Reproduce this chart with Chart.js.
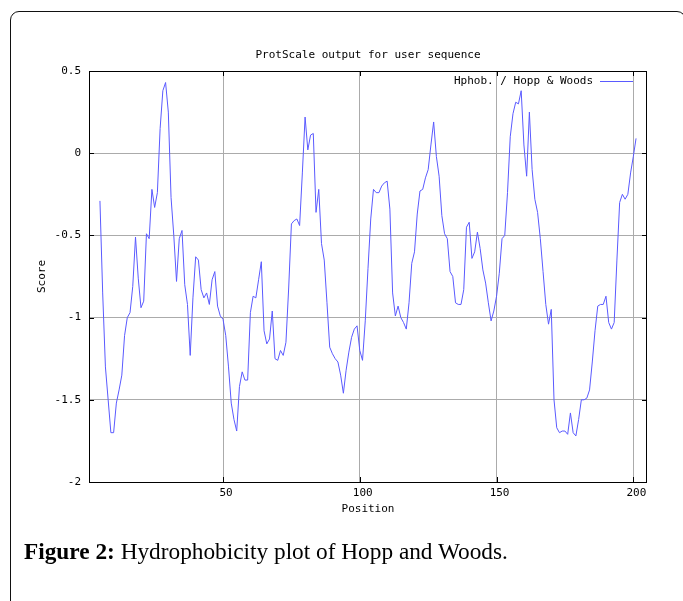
<!DOCTYPE html>
<html>
<head>
<meta charset="utf-8">
<script src="https://cdn.jsdelivr.net/npm/chart.js@4/dist/chart.umd.min.js"></script>
<style>
  html, body { margin:0; padding:0; background:#fff; width:683px; height:601px; overflow:hidden; }
  #frame { position:absolute; left:10px; top:11px; width:676px; height:720px; border:1.5px solid #111; border-radius:9px; box-sizing:border-box; }
  #c { position:absolute; left:0; top:0; }
  #caption { position:absolute; left:24px; top:539px; font-family:"Liberation Serif","DejaVu Serif",serif; font-size:23.3px; line-height:24px; color:#000; white-space:nowrap; }
  #caption b { font-weight:bold; }
</style>
</head>
<body>
<div id="frame"></div>
<canvas id="c" width="683" height="601"></canvas>
<div id="caption"><b>Figure 2:</b> Hydrophobicity plot of Hopp and Woods.</div>
<script>
// ---- data ----
const chartTitle = "ProtScale output for user sequence";
const seriesLabel = "Hphob. / Hopp & Woods";
const xAxisTitle = "Position";
const yAxisTitle = "Score";
const xTickValues = [50, 100, 150, 200];
const yTickValues = [0.5, 0, -0.5, -1, -1.5, -2];

const positions = [
  5,6,7,8,9,10,11,12,13,14,15,16,17,18,19,20,21,22,23,24,25,26,27,28,29,30,
  31,32,33,34,35,36,37,38,39,40,41,42,43,44,45,46,47,48,49,50,
  51,52,53,54,55,56,57,58,59,60,61,62,63,64,65,66,67,68,69,70,
  71,72,73,74,75,76,77,78,79,80,81,82,83,84,85,86,87,88,89,90,
  91,92,93,94,95,96,97,98,99,100,101,102,103,104,105,106,107,108,109,110,
  111,112,113,114,115,116,117,118,119,120,121,122,123,124,125,126,127,128,129,130,
  131,132,133,134,135,136,137,138,139,140,141,142,143,144,145,146,147,148,149,150,
  151,152,153,154,155,156,157,158,159,160,161,162,163,164,165,166,167,168,169,170,
  171,172,173,174,175,176,177,178,179,180,181,182,183,184,185,186,187,188,189,190,
  191,192,193,194,195,196,197,198,199,200,201
];

const scores = [
  -0.29,-0.85,-1.30,-1.50,-1.70,-1.70,-1.52,-1.44,-1.35,-1.11,-1.00,-0.97,-0.81,-0.51,-0.76,-0.94,-0.90,-0.49,-0.52,-0.22,-0.33,-0.24,0.15,0.38,0.43,0.25,
  -0.27,-0.50,-0.78,-0.52,-0.47,-0.80,-0.92,-1.23,-0.88,-0.63,-0.65,-0.83,-0.88,-0.85,-0.92,-0.77,-0.72,-0.93,-0.99,-1.01,
  -1.11,-1.30,-1.52,-1.62,-1.69,-1.42,-1.33,-1.38,-1.38,-0.97,-0.87,-0.88,-0.77,-0.66,-1.08,-1.16,-1.13,-0.96,-1.25,-1.26,
  -1.20,-1.23,-1.15,-0.82,-0.43,-0.41,-0.40,-0.44,-0.12,0.22,0.02,0.11,0.12,-0.36,-0.22,-0.55,-0.65,-0.91,-1.18,-1.22,
  -1.25,-1.27,-1.35,-1.46,-1.32,-1.21,-1.12,-1.07,-1.05,-1.20,-1.26,-1.02,-0.70,-0.40,-0.22,-0.24,-0.24,-0.20,-0.18,-0.17,
  -0.34,-0.85,-0.99,-0.93,-1.00,-1.03,-1.07,-0.91,-0.67,-0.60,-0.37,-0.23,-0.22,-0.15,-0.10,0.05,0.19,-0.02,-0.14,-0.38,
  -0.49,-0.52,-0.72,-0.75,-0.91,-0.92,-0.92,-0.83,-0.45,-0.42,-0.64,-0.60,-0.48,-0.58,-0.71,-0.79,-0.91,-1.02,-0.96,-0.87,
  -0.73,-0.52,-0.50,-0.24,0.10,0.24,0.31,0.30,0.38,0.05,-0.14,0.25,-0.10,-0.28,-0.36,-0.52,-0.72,-0.92,-1.04,-0.95,
  -1.50,-1.67,-1.70,-1.69,-1.69,-1.71,-1.58,-1.70,-1.72,-1.62,-1.50,-1.50,-1.49,-1.44,-1.27,-1.08,-0.93,-0.92,-0.92,-0.87,
  -1.03,-1.07,-1.03,-0.65,-0.30,-0.25,-0.28,-0.25,-0.12,-0.02,0.09
];

// ---- styling ----
const MONO = '"DejaVu Sans Mono", "Liberation Mono", monospace';
const lineColor = 'rgb(90,90,255)';
const gridColor = '#ababab';

const framePlugin = {
  id: 'framePlugin',
  beforeDatasetsDraw(chart) {
    const {ctx, chartArea: a, scales} = chart;
    ctx.save();
    ctx.strokeStyle = '#000';
    ctx.lineWidth = 1;
    ctx.strokeRect(Math.round(a.left) + 0.5, Math.round(a.top) + 0.5, Math.round(a.right - a.left) - 1, Math.round(a.bottom - a.top));
    ctx.beginPath();
    xTickValues.forEach(v => {
      const x = Math.round(scales.x.getPixelForValue(v)) + 0.5;
      ctx.moveTo(x, a.top); ctx.lineTo(x, a.top + 5);
      ctx.moveTo(x, a.bottom); ctx.lineTo(x, a.bottom - 5);
    });
    yTickValues.forEach(v => {
      const y = Math.round(scales.y.getPixelForValue(v)) + 0.5;
      ctx.moveTo(a.left, y); ctx.lineTo(a.left + 5, y);
      ctx.moveTo(a.right, y); ctx.lineTo(a.right - 5, y);
    });
    ctx.stroke();
    ctx.restore();
  },
  afterDraw(chart) {
    const {ctx, chartArea: a} = chart;
    const ds = chart.data.datasets[0];
    const y = a.top + 10.5;
    ctx.save();
    ctx.font = '11px ' + MONO;
    ctx.fillStyle = '#000';
    ctx.textAlign = 'right';
    ctx.textBaseline = 'middle';
    ctx.fillText(ds.label, a.right - 54, y);
    ctx.strokeStyle = ds.borderColor;
    ctx.lineWidth = 1;
    ctx.beginPath();
    ctx.moveTo(a.right - 47, y); ctx.lineTo(a.right - 14, y);
    ctx.stroke();
    ctx.restore();
  }
};

new Chart(document.getElementById('c'), {
  type: 'line',
  data: {
    datasets: [{
      label: seriesLabel,
      data: positions.map((p, i) => ({x: p, y: scores[i]})),
      borderColor: lineColor,
      borderWidth: 1,
      pointRadius: 0,
      tension: 0,
      fill: false
    }]
  },
  options: {
    responsive: false,
    animation: false,
    devicePixelRatio: 1,
    layout: { padding: { left: 0, right: 36, top: 0, bottom: 0 } },
    plugins: {
      legend: { display: false },
      tooltip: { enabled: false },
      title: {
        display: true,
        text: chartTitle,
        fullSize: false,
        color: '#000',
        font: { family: MONO, size: 11, weight: 'normal' },
        padding: { top: 48.4, bottom: 9.4 }
      }
    },
    scales: {
      x: {
        type: 'linear',
        min: 1,
        max: 205,
        position: 'bottom',
        afterBuildTicks(scale) { scale.ticks = xTickValues.map(v => ({value: v})); },
        afterFit(scale) { scale.height = 119; },
        grid: { color: gridColor, lineWidth: 1, drawTicks: false },
        border: { display: false },
        ticks: {
          color: '#000',
          font: { family: MONO, size: 11 },
          padding: 5,
          labelOffset: 3,
          maxRotation: 0,
          callback: v => String(v)
        },
        title: {
          display: true,
          text: xAxisTitle,
          color: '#000',
          font: { family: MONO, size: 11 },
          padding: { top: 0, bottom: 85.4 }
        }
      },
      y: {
        type: 'linear',
        min: -2,
        max: 0.5,
        afterBuildTicks(scale) { scale.ticks = yTickValues.map(v => ({value: v})); },
        afterFit(scale) { scale.width = 89; },
        grid: { color: gridColor, lineWidth: 1, drawTicks: false },
        border: { display: false },
        ticks: {
          color: '#000',
          font: { family: MONO, size: 11 },
          padding: 8,
          callback: v => String(v)
        },
        title: {
          display: true,
          text: yAxisTitle,
          color: '#000',
          font: { family: MONO, size: 11 },
          padding: { top: 35.4, bottom: 0 }
        }
      }
    }
  },
  plugins: [framePlugin]
});
</script>
</body>
</html>
